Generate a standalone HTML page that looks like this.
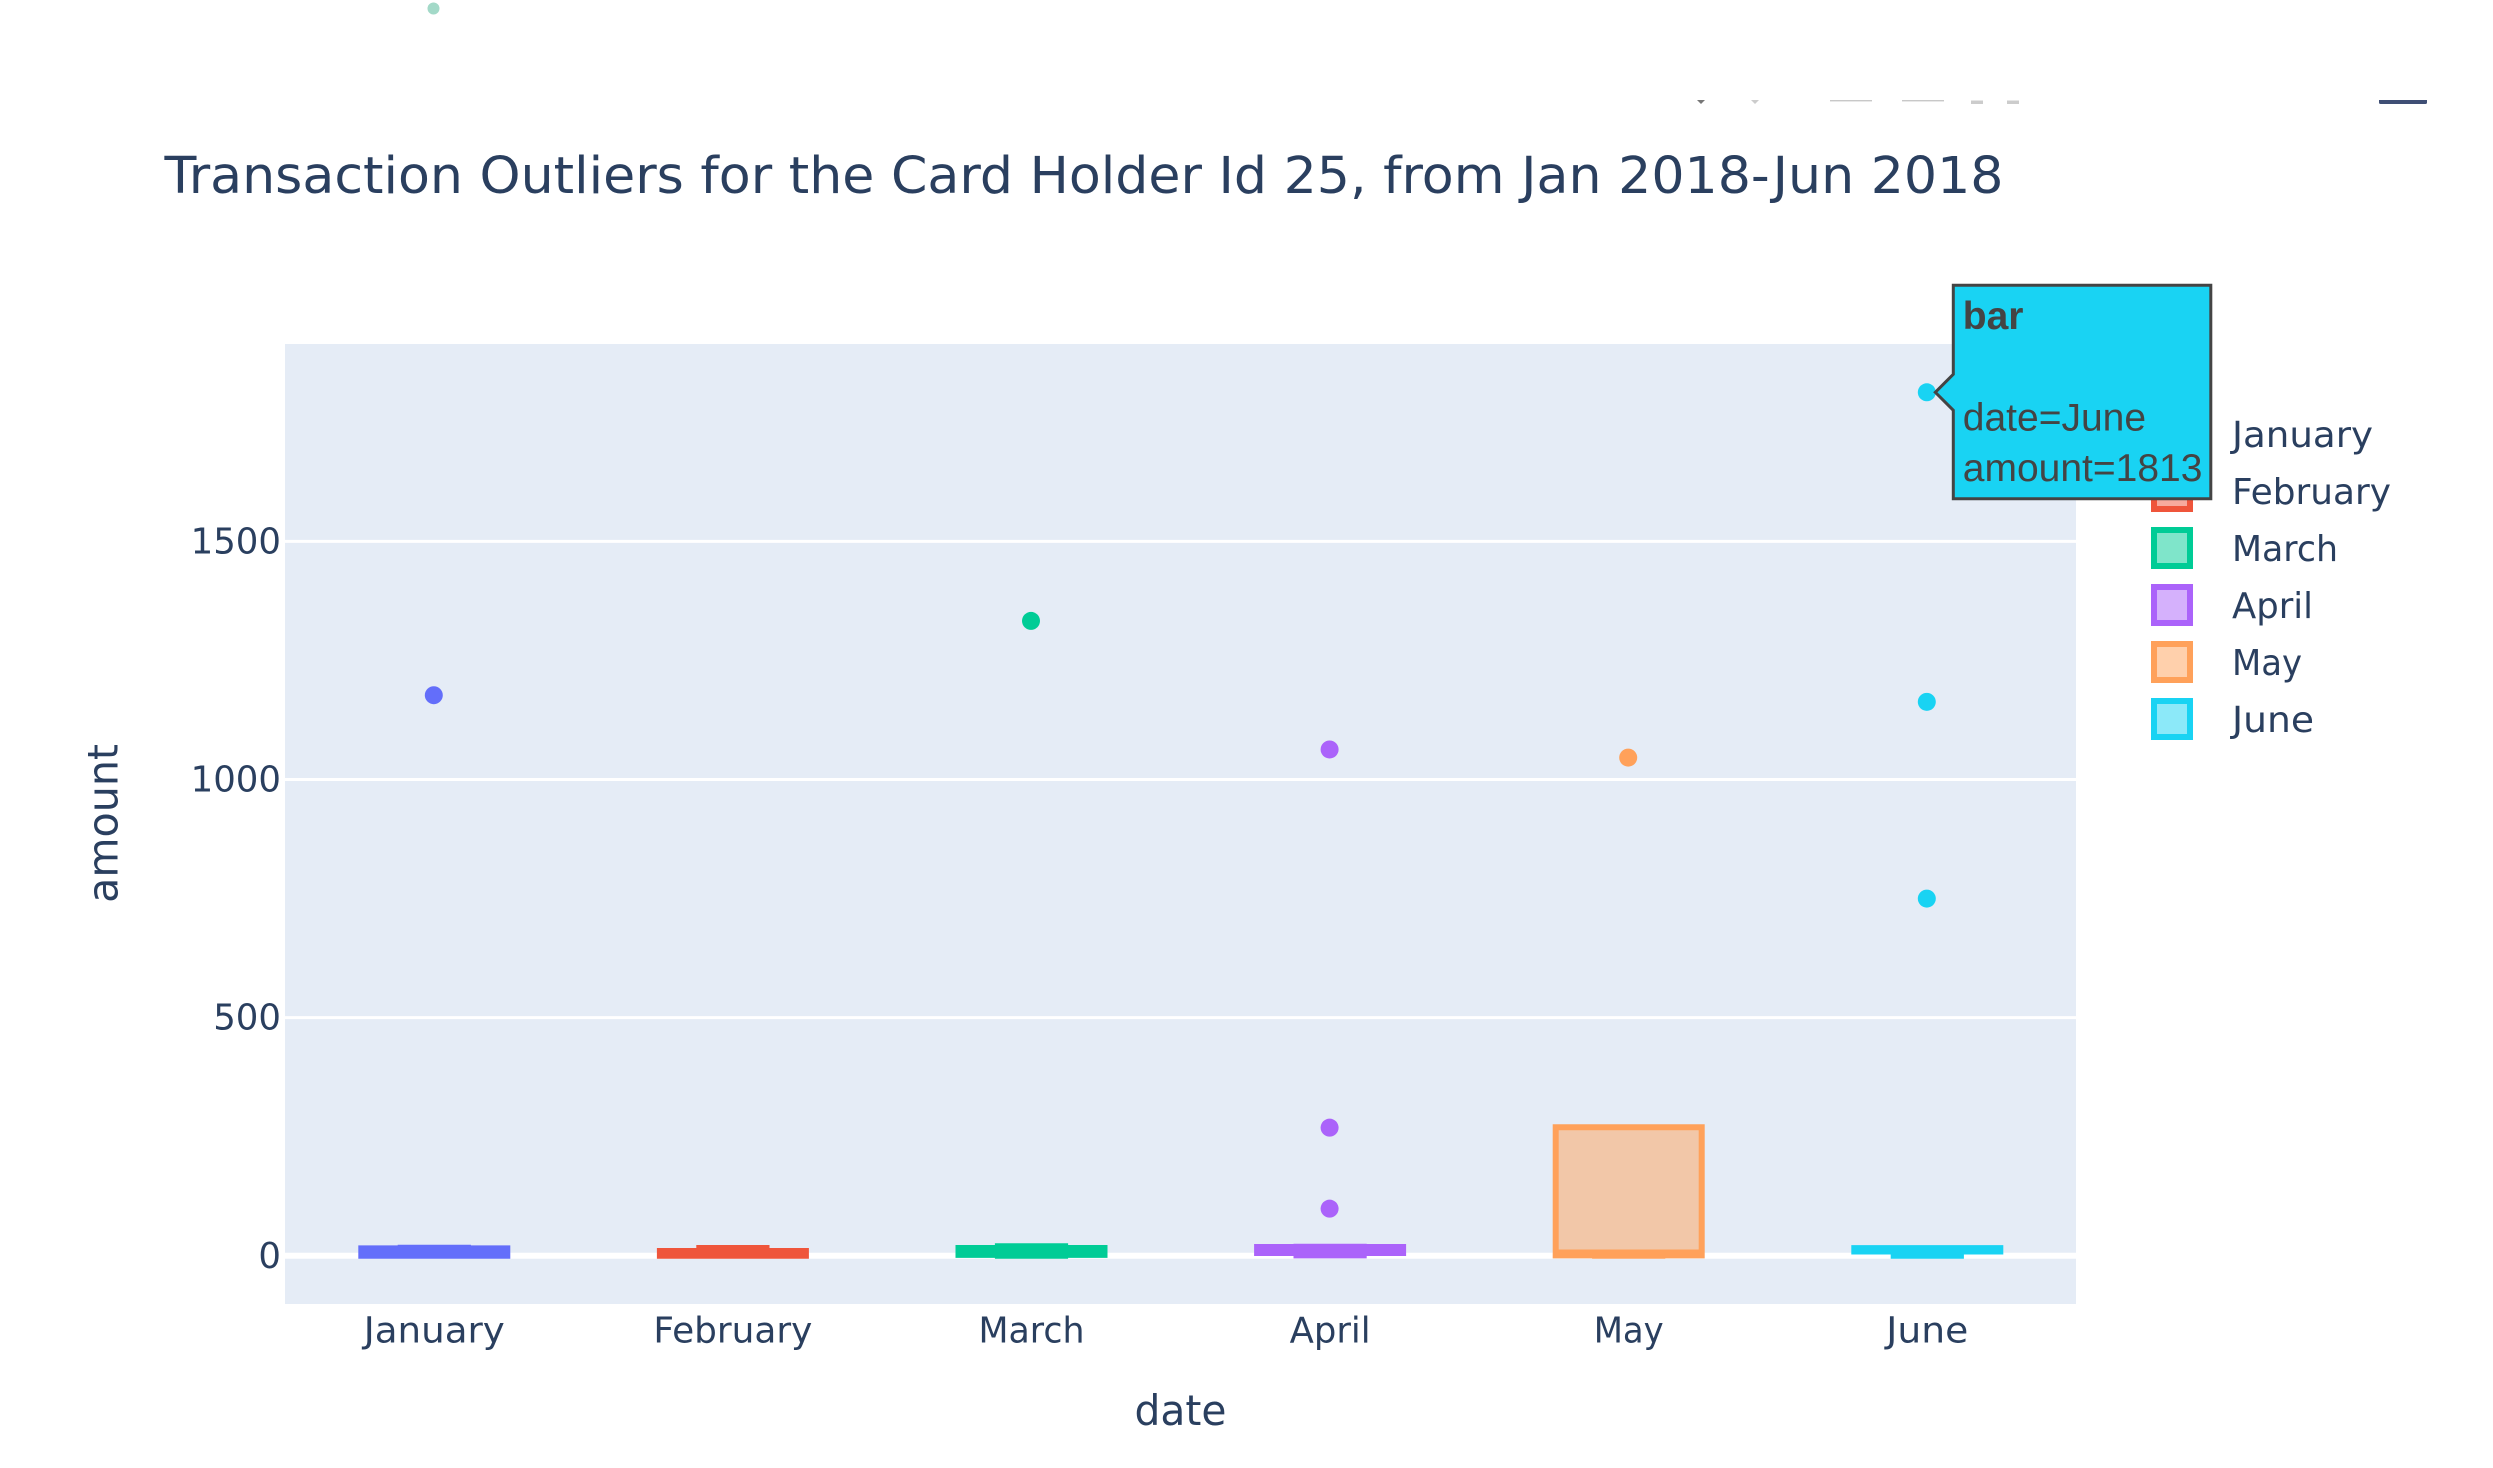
<!DOCTYPE html>
<html lang="en">
<head>
<meta charset="utf-8">
<title>Transaction Outliers for the Card Holder Id 25</title>
<style>
  html, body { margin: 0; padding: 0; background: #fff; }
  svg { display: block; }
  text { font-family: "DejaVu Sans", "Liberation Sans", sans-serif; fill: #2a3f5f; }
  .hover-text { font-family: "Liberation Sans", Arial, sans-serif; fill: #444; font-size: 39px; }
</style>
</head>
<body>
<svg id="chart" xmlns="http://www.w3.org/2000/svg" width="2493" height="1468" viewBox="0 0 2493 1468">
  <rect x="0" y="0" width="2493" height="1468" fill="#ffffff"/>

  <circle cx="433.5" cy="8.5" r="6" fill="#a3d9c8"/>

  <g>
    <path d="M1697 100H1705L1701 104Z" fill="#777777"/>
    <path d="M1751 100H1759L1755 104Z" fill="#cccccc"/>
    <rect x="1830" y="100" width="42" height="1.4" fill="#c8c8c8"/>
    <rect x="1902" y="100" width="42" height="1.4" fill="#c8c8c8"/>
    <rect x="1971" y="100.5" width="12" height="3.5" fill="#cccccc"/>
    <rect x="2007" y="100.5" width="12" height="3.5" fill="#cccccc"/>
    <path d="M2379 100H2427V102.5Q2427 104 2425.5 104H2380.5Q2379 104 2379 102.5Z" fill="#3f4f75"/>
  </g>

  <text x="164.5" y="193" font-size="51" textLength="1839" lengthAdjust="spacingAndGlyphs">Transaction Outliers for the Card Holder Id 25, from Jan 2018-Jun 2018</text>

  <rect x="285" y="344" width="1791" height="960" fill="#E5ECF6"/>
  <g id="grid"></g>
  <g id="boxes"></g>
  <g id="xticks"></g>
  <g id="yticks"></g>

  <text x="1180.5" y="1425" font-size="42" text-anchor="middle" textLength="92" lengthAdjust="spacingAndGlyphs">date</text>
  <text transform="translate(117.3 823.4) rotate(-90)" font-size="42" text-anchor="middle" textLength="159" lengthAdjust="spacingAndGlyphs">amount</text>

  <g id="legend"></g>
  <g id="hover"></g>
</svg>

<script>
const categories = ["January", "February", "March", "April", "May", "June"];
const lowerFence = [0, 0, 0, 1, 0, 0];
const quartile1 = [0, 0, 2, 6, 1, 9];
const medians = [8, 5, 10, 12, 7, 12];
const quartile3 = [15.7, 10, 16.5, 18.5, 270, 16];
const upperFence = [17, 16.5, 20, 19, 270, 16];
const outliersJanuary = [1177];
const outliersFebruary = [];
const outliersMarch = [1333];
const outliersApril = [1063, 269, 99];
const outliersMay = [1046];
const outliersJune = [1813, 1163, 750];
const yTickValues = [0, 500, 1000, 1500];
const hoverAmount = 1813;
const hoverCategory = "June";

const allOutliers = [outliersJanuary, outliersFebruary, outliersMarch, outliersApril, outliersMay, outliersJune];
const palette = ["#636EFA", "#EF553B", "#00CC96", "#AB63FA", "#FFA15A", "#19D3F3"];
const labelWidths = { January: 141, February: 159, March: 106, April: 81, May: 70, June: 82 };

const plotLeft = 285, bandWidth = 298.6;
const yZero = 1255.8, yPerUnit = 0.4763;
const boxHalf = 73, capHalf = 36.6;
const digitWidth = 22.6;
const NS = "http://www.w3.org/2000/svg";

function xScale(i) { return plotLeft + (i + 0.5) * bandWidth; }
function yScale(v) { return yZero - v * yPerUnit; }
function make(tag, attrs, parent) {
  const el = document.createElementNS(NS, tag);
  for (const k in attrs) el.setAttribute(k, attrs[k]);
  parent.appendChild(el);
  return el;
}
function slug(s) { return String(s).toLowerCase(); }

const gridG = document.getElementById("grid");
const yTicksG = document.getElementById("yticks");
yTickValues.forEach(function (v) {
  const line = make("line", { x1: plotLeft, x2: 2076, y1: yScale(v), y2: yScale(v), stroke: "#ffffff", "stroke-width": v === 0 ? 6 : 3 }, gridG);
  
  
  const label = make("text", { x: 281, y: yScale(v) + 12, "font-size": 36, "text-anchor": "end", textLength: digitWidth * String(v).length, lengthAdjust: "spacingAndGlyphs" }, yTicksG);
  label.textContent = String(v);
  
  
});

const boxesG = document.getElementById("boxes");
const xTicksG = document.getElementById("xticks");
categories.forEach(function (cat, i) {
  const cx = xScale(i), color = palette[i];
  const group = make("g", {}, boxesG);
  
  

  const yQ1 = yScale(quartile1[i]), yQ3 = yScale(quartile3[i]), yMed = yScale(medians[i]);
  const yLow = yScale(lowerFence[i]), yHigh = yScale(upperFence[i]);
  const d = "M" + (cx - boxHalf) + "," + yMed + "H" + (cx + boxHalf) +
    "M" + (cx - boxHalf) + "," + yQ1 + "H" + (cx + boxHalf) + "V" + yQ3 + "H" + (cx - boxHalf) + "Z" +
    "M" + cx + "," + yQ1 + "V" + yLow + "M" + cx + "," + yQ3 + "V" + yHigh +
    "M" + (cx - capHalf) + "," + yLow + "H" + (cx + capHalf) +
    "M" + (cx - capHalf) + "," + yHigh + "H" + (cx + capHalf);
  const body = make("path", { d: d, fill: color, "fill-opacity": 0.5, stroke: color, "stroke-width": 6 }, group);
  
  

  allOutliers[i].forEach(function (v) {
    const dot = make("circle", { cx: cx - 0.5, cy: yScale(v), r: 9, fill: color }, group);
    
    
  });

  const tick = make("text", { x: cx, y: 1342.7, "font-size": 36, "text-anchor": "middle", textLength: labelWidths[cat], lengthAdjust: "spacingAndGlyphs" }, xTicksG);
  tick.textContent = cat;
  
  
});

const legendG = document.getElementById("legend");
categories.forEach(function (cat, i) {
  const cy = 434 + i * 57;
  const entry = make("g", {}, legendG);
  
  
  const swatch = make("rect", { x: 2154, y: cy - 18, width: 36, height: 36, fill: palette[i], "fill-opacity": 0.5, stroke: palette[i], "stroke-width": 6 }, entry);
  
  
  const text = make("text", { x: 2232, y: cy + 13, "font-size": 36, textLength: labelWidths[cat], lengthAdjust: "spacingAndGlyphs" }, entry);
  text.textContent = cat;
  
  
});

const hoverG = document.getElementById("hover");
const hoverIndex = categories.indexOf(hoverCategory);
const tipX = xScale(hoverIndex) + 8, tipY = yScale(hoverAmount);
const bubbleLeft = tipX + 18, bubbleRight = tipX + 275.5, bubbleTop = tipY - 107, bubbleBottom = tipY + 106.5;
const bubble = make("path", {
  d: "M" + tipX + "," + tipY + "L" + bubbleLeft + "," + (tipY - 18) + "V" + bubbleTop + "H" + bubbleRight + "V" + bubbleBottom + "H" + bubbleLeft + "V" + (tipY + 18) + "Z",
  fill: palette[hoverIndex], stroke: "#444444", "stroke-width": 3
}, hoverG);


const hoverLines = [
  { text: "bar", dy: -63.5, bold: true, name: "tooltip-trace-name" },
  { text: "date=" + hoverCategory, dy: 38.2, bold: false, name: "tooltip-date" },
  { text: "amount=" + hoverAmount, dy: 88.8, bold: false, name: "tooltip-amount" }
];
hoverLines.forEach(function (line) {
  const t = make("text", { x: bubbleLeft + 9.5, y: tipY + line.dy, class: "hover-text" }, hoverG);
  if (line.bold) t.setAttribute("font-weight", "bold");
  t.textContent = line.text;
  
  
});
</script>
</body>
</html>
